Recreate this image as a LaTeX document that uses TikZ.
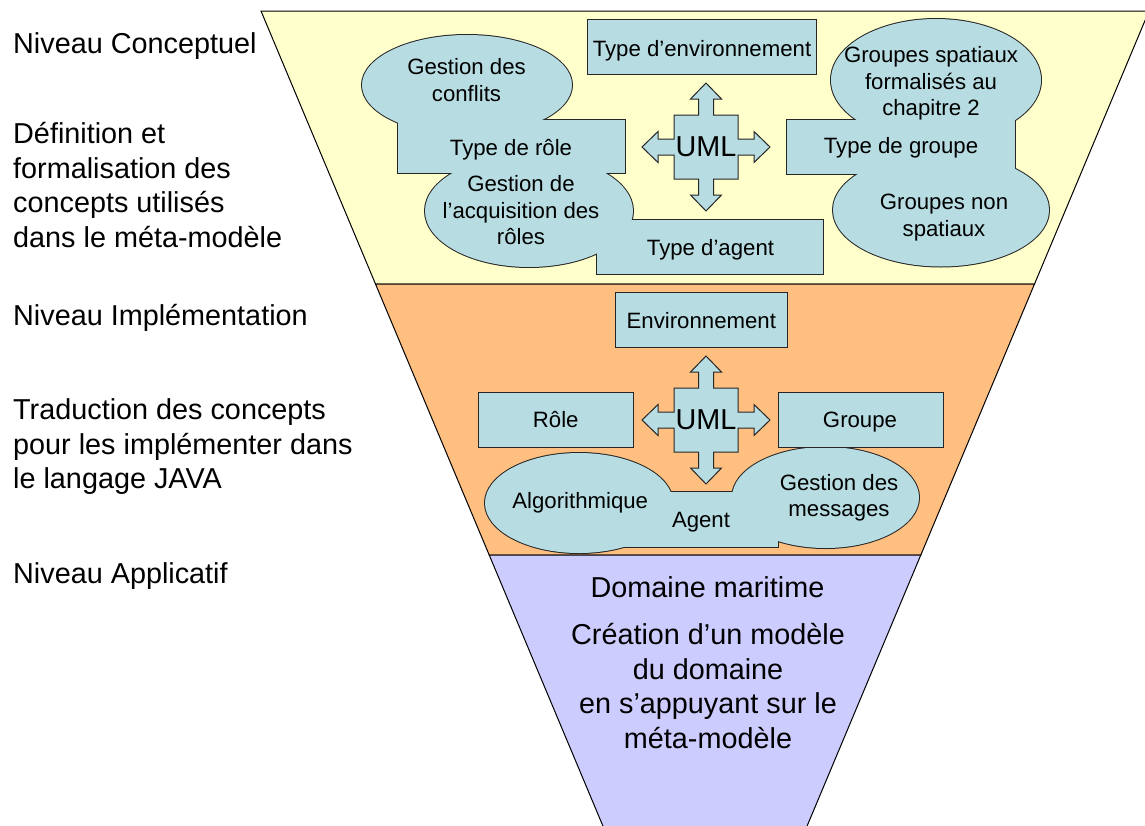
\documentclass[tikz,border=0pt]{standalone}
\usepackage{fontspec}
\setmainfont{Liberation Sans}
\definecolor{bandY}{RGB}{255,255,204}
\definecolor{bandO}{RGB}{255,191,128}
\definecolor{bandP}{RGB}{204,204,255}
\definecolor{shapeB}{RGB}{183,221,226}
\definecolor{lineC}{RGB}{38,38,38}
\tikzset{
  umlcross/.pic={
    \draw[crossline] (0,-64) -- (15.5,-48) -- (7.5,-48) -- (7.5,-32) -- (32,-32) -- (32,-8)
      -- (48,-8) -- (48,-15.5) -- (64,0) -- (48,15.5) -- (48,8) -- (32,8) -- (32,32)
      -- (7.5,32) -- (7.5,48) -- (15.5,48) -- (0,64) -- (-15.5,48) -- (-7.5,48) -- (-7.5,32)
      -- (-32,32) -- (-32,8) -- (-48,8) -- (-48,15.5) -- (-64,0) -- (-48,-15.5) -- (-48,-8)
      -- (-32,-8) -- (-32,-32) -- (-7.5,-32) -- (-7.5,-48) -- (-15.5,-48) -- cycle;
    \node[big, anchor=base] (-uml) at (0,9.5) {UML};
  }
}
\begin{document}
\begin{tikzpicture}[x=1pt,y=-1pt,
  band/.style={draw=black, line width=1pt},
  uline/.style={draw=lineC, line width=2pt},
  ufill/.style={fill=shapeB},
  boxnode/.style={rectangle, draw=lineC, line width=1pt, fill=shapeB, inner sep=0pt},
  crossline/.style={draw=lineC, line width=1pt, fill=shapeB, line join=miter},
  small/.style={font=\fontsize{22.2}{26.5}\selectfont, inner sep=0pt, text=black},
  big/.style={font=\fontsize{28.8}{34.8}\selectfont, inner sep=0pt, text=black},
]
\useasboundingbox (0,0) rectangle (1145,825);
\clip (0,0) rectangle (1145,825);
\fill[white] (0,0) rectangle (1145,825);

% funnel bands
\filldraw[band, fill=bandY] (261,11) -- (1149,11) -- (1034.5,284) -- (375.5,284) -- cycle;
\filldraw[band, fill=bandO] (375.5,284) -- (1034.5,284) -- (920.8,555) -- (489.2,555) -- cycle;
\filldraw[band, fill=bandP] (489.2,555) -- (920.8,555) -- (801.2,840) -- (608.8,840) -- cycle;

% merged shapes: outlines first, then fills (only the outer contour stays visible)
\foreach \cx/\cy/\rx/\ry in {467/85/105/50, 529/211/104/56, 936/80/105/61, 941/210/108/56.5, 579/503/94/50, 825.5/497.5/93.5/50.5}
  \draw[uline] (\cx,\cy) ellipse [x radius=\rx pt, y radius=\ry pt];
\foreach \xa/\ya/\xb/\yb in {398/120/625/173, 597/220/823/274, 787/120/1015/174, 625/492/778/547}
  \draw[uline] (\xa,\ya) rectangle (\xb,\yb);
\foreach \cx/\cy/\rx/\ry in {467/85/105/50, 529/211/104/56, 936/80/105/61, 941/210/108/56.5, 579/503/94/50, 825.5/497.5/93.5/50.5}
  \fill[ufill] (\cx,\cy) ellipse [x radius=\rx pt, y radius=\ry pt];
\foreach \xa/\ya/\xb/\yb in {398/120/625/173, 597/220/823/274, 787/120/1015/174, 625/492/778/547}
  \fill[ufill] (\xa,\ya) rectangle (\xb,\yb);

% separate boxes
\node[boxnode, minimum width=229pt, minimum height=55pt] (envtype) at (701.5,46.5) {};
\node[boxnode, minimum width=172pt, minimum height=55pt] (env) at (701,319.5) {};
\node[boxnode, minimum width=155pt, minimum height=55pt] (role) at (555.5,419.5) {};
\node[boxnode, minimum width=165pt, minimum height=55pt] (grp) at (860.5,419.5) {};

% UML crosses
\pic (ctop) at (706,147) {umlcross};
\pic (cmid) at (706,420) {umlcross};

% texts, conceptual level
\node[small, anchor=base] (tenvtype) at (702,56.7) {Type d’environnement};
\node[small, align=center] (tconf) at (466.5,80.3) {Gestion des\\conflits};
\node[small, anchor=base] (trole) at (511,155) {Type de rôle};
\node[small, align=center] (tacq) at (521,210.2) {Gestion de\\l’acquisition des\\rôles};
\node[small, anchor=base] (tagent) at (710.5,255) {Type d’agent};
\node[small, align=center] (tgsp) at (931,83.5) {Groupes spatiaux\\formalisés au\\chapitre 2};
\node[small, anchor=base] (tgrp) at (901,153.3) {Type de groupe};
\node[small, align=center] (tgns) at (944,217.5) {Groupes non\\spatiaux};

% texts, implementation level
\node[small, anchor=base] (tenv) at (701.3,328.3) {Environnement};
\node[small, anchor=base] (trol) at (555.7,427.7) {Rôle};
\node[small, anchor=base] (tgroupe) at (860,427.7) {Groupe};
\node[small, anchor=base] (talgo) at (580.2,508.3) {Algorithmique};
\node[small, anchor=base] (tag) at (701,527.3) {Agent};
\node[small, align=center] (tmsg) at (839,497.6) {Gestion des\\messages};

% texts, application level
\node[big, anchor=base] (dm) at (707.5,597.7) {Domaine maritime};
\node[big, align=center, anchor=north] (cm) at (708,622.8) {Création d’un modèle\\du domaine\\en s’appuyant sur le\\méta-modèle};

% left column
\node[big, anchor=base west] (nc) at (13,53.3) {Niveau Conceptuel};
\node[big, align=left, anchor=north west] (dc) at (13,121.8) {Définition et\\formalisation des\\concepts utilisés\\dans le méta-modèle};
\node[big, anchor=base west] (ni) at (13,325.7) {Niveau Implémentation};
\node[big, align=left, anchor=north west] (ti) at (13,398.3) {Traduction des concepts\\pour les implémenter dans\\le langage JAVA};
\node[big, anchor=base west] (na) at (13,583.3) {Niveau Applicatif};
\end{tikzpicture}
\end{document}
